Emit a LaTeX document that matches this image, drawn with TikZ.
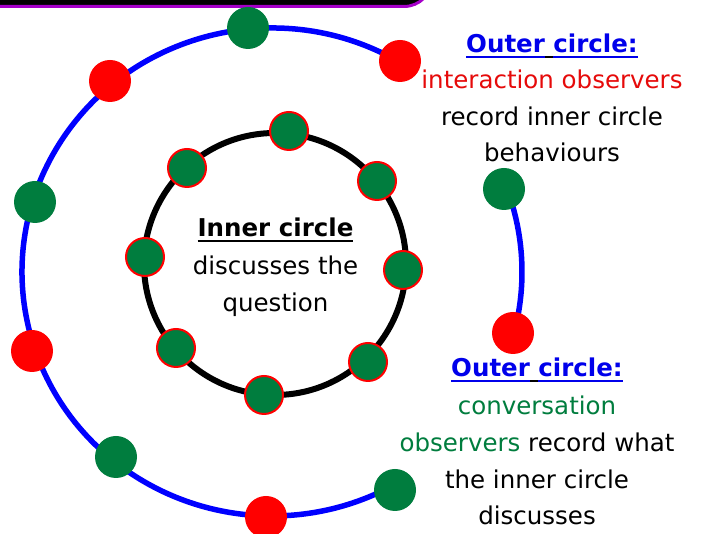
\documentclass[tikz,border=0pt]{standalone}
\usepackage{fontspec}
\setmainfont{DejaVu Sans}
\definecolor{dotgreen}{RGB}{0,125,62}
\definecolor{dotred}{RGB}{255,0,0}
\definecolor{txtred}{RGB}{230,10,10}
\definecolor{txtgreen}{RGB}{0,125,62}
\definecolor{txtblue}{RGB}{0,0,235}
\definecolor{bandpurple}{RGB}{165,0,200}
\newcommand\myul[1]{\setbox0\hbox{#1}\rlap{\rule[-5pt]{\wd0}{2pt}}\box0}
\tikzset{
  outerdot/.style={circle,fill=#1,minimum size=42pt,inner sep=0pt},
  innerdot/.style={circle,fill=dotgreen,draw=dotred,line width=2pt,minimum size=38pt,inner sep=0pt},
  txt/.style={anchor=base,inner sep=0pt,font=\fontsize{24.5}{30}\selectfont},
  head/.style={txt,font=\fontsize{24.5}{30}\selectfont\bfseries},
}
\begin{document}
\begin{tikzpicture}[x=1pt,y=1pt]
\useasboundingbox (0,0) rectangle (704,534);
\clip (0,0) rectangle (704,534);
\fill[white] (0,0) rectangle (704,534);
% top band
\draw[fill=black,draw=bandpurple,line width=3pt,rounded corners=28pt] (-40,527.5) -- (432,527.5) -- (432,580) -- (-40,580) -- cycle;
% outer ring arcs
\draw[blue,line width=5.5pt] (272,262) ++(59.5:250 and 244) arc[start angle=59.5,end angle=298.9,x radius=250,y radius=244];
\draw[blue,line width=5.5pt] (272,262) ++(-14.5:250 and 244) arc[start angle=-14.5,end angle=20.1,x radius=250,y radius=244];
% inner circle
\draw[black,line width=6pt] (275,270) circle[radius=131];
% outer dots
\node[outerdot=dotgreen] (og1) at (248,506) {};
\node[outerdot=dotred]   (or1) at (400,473) {};
\node[outerdot=dotred]   (or2) at (110,453) {};
\node[outerdot=dotgreen] (og2) at (35,332) {};
\node[outerdot=dotred]   (or3) at (32,183) {};
\node[outerdot=dotgreen] (og3) at (116,77) {};
\node[outerdot=dotred]   (or4) at (266,17) {};
\node[outerdot=dotgreen] (og4) at (395,44) {};
\node[outerdot=dotgreen] (og5) at (504,345) {};
\node[outerdot=dotred]   (or5) at (513,201) {};
% inner dots
\node[innerdot] (ig1) at (289,403) {};
\node[innerdot] (ig2) at (377,353) {};
\node[innerdot] (ig3) at (403,264) {};
\node[innerdot] (ig4) at (368,172) {};
\node[innerdot] (ig5) at (264,139) {};
\node[innerdot] (ig6) at (176,186) {};
\node[innerdot] (ig7) at (145,277) {};
\node[innerdot] (ig8) at (187,366) {};
% upper right text
\node[head,txtblue] (u1) at (552,481) {\myul{Outer}{\color{black}\myul{\ }}\myul{circle:}};
\node[txt,txtred] (u2) at (552,445) {interaction observers};
\node[txt] (u3) at (552,408) {record inner circle};
\node[txt] (u4) at (552,372) {behaviours};
% lower right text
\node[head,txtblue] (l1) at (537,157) {\myul{Outer}{\color{black}\myul{\ }}\myul{circle:}};
\node[txt,txtgreen] (l2) at (537,119) {conversation};
\node[txt] (l3) at (537,82) {{\color{txtgreen}observers} record what};
\node[txt] (l4) at (537,45) {the inner circle};
\node[txt] (l5) at (537,9) {discusses};
% inner text
\node[head] (i1) at (275.5,297) {\myul{Inner circle}};
\node[txt] (i2) at (275.5,259) {discusses the};
\node[txt] (i3) at (275.5,222) {question};
\end{tikzpicture}
\end{document}
